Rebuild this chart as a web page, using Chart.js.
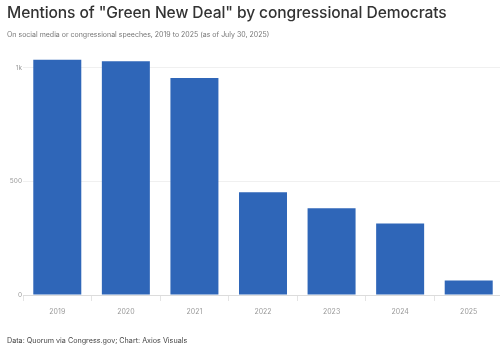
<!DOCTYPE html>
<html>
<head>
<meta charset="utf-8">
<script src="https://cdn.jsdelivr.net/npm/chart.js@4"></script>
<style>
  html, body { margin: 0; padding: 0; background: #fff; }
  body { width: 500px; height: 349px; overflow: hidden; position: relative; font-family: Inter, "Noto Sans", sans-serif; }
  #title { position: absolute; left: 7px; top: 3px; font-size: 15.6px; font-weight: 500; color: #333; letter-spacing: -0.1px; white-space: nowrap; }
  #sub { position: absolute; left: 7px; top: 30px; font-size: 7px; color: #777; white-space: nowrap; }
  #source { position: absolute; left: 7px; top: 336px; font-size: 7.2px; color: #444; white-space: nowrap; }
  #wrap { position: absolute; left: 0; top: 0; width: 510px; height: 349px; }
</style>
</head>
<body>
<div id="wrap"><canvas id="chart"></canvas></div>
<div id="title">Mentions of "Green New Deal" by congressional Democrats</div>
<div id="sub">On social media or congressional speeches, 2019 to 2025 (as of July 30, 2025)</div>
<div id="source">Data: Quorum via Congress.gov; Chart: Axios Visuals</div>
<script>
const years = ['2019', '2020', '2021', '2022', '2023', '2024', '2025'];
const mentions = [1036, 1029, 956, 452, 382, 315, 64];
const yTicks = [0, 500, 1000];

const ctx = document.getElementById('chart');
new Chart(ctx, {
    type: 'bar',
    data: {
        labels: years,
        datasets: [{
            data: mentions,
            backgroundColor: '#2f66b8',
            borderWidth: 0,
            barPercentage: 0.7,
            categoryPercentage: 1
        }]
    },
    options: {
        responsive: true,
        maintainAspectRatio: false,
        animation: false,
        layout: { padding: { top: 57, right: 7, bottom: 24, left: 0 } },
        plugins: {
            legend: { display: false },
            tooltip: { enabled: false }
        },
        scales: {
            x: {
                offset: true,
                border: { display: false },
                grid: { drawOnChartArea: false, drawTicks: true, tickLength: 6, color: '#e4e4e4' },
                ticks: { color: '#999', font: { family: 'Inter', size: 7 }, padding: 7, maxRotation: 0 },
                afterFit: (scale) => { scale.height = 30 }
            },
            y: {
                min: 0,
                max: 1048,
                border: { display: false },
                grid: {
                    drawTicks: false,
                    color: (c) => c.tick && c.tick.value === 0 ? '#dcdcdc' : '#f0f0f0'
                },
                afterBuildTicks: (scale) => { scale.ticks = yTicks.map(v => ({ value: v })) },
                ticks: {
                    color: '#999',
                    font: { family: 'Inter', size: 6.5 },
                    padding: 1,
                    callback: (v) => v >= 1000 ? (v / 1000) + 'k' : v
                },
                afterFit: (scale) => { scale.width = 23 }
            }
        }
    }
});
</script>
</body>
</html>
